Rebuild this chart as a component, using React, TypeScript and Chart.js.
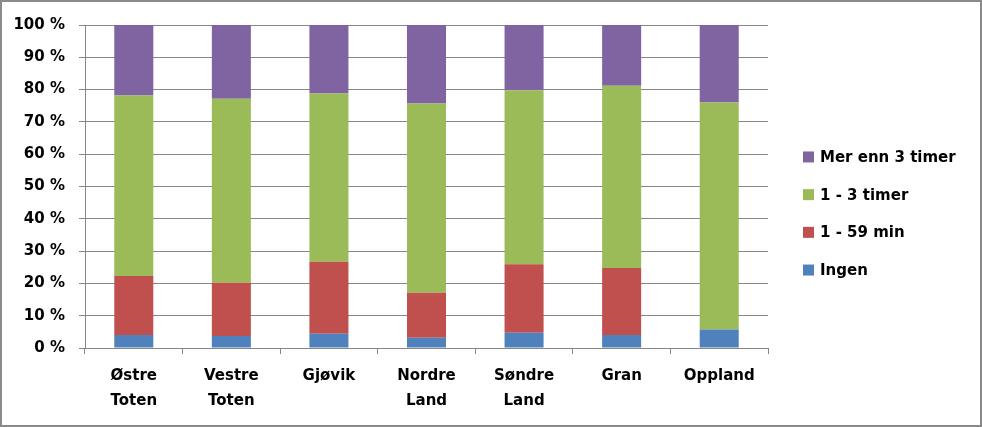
import React, { useEffect, useRef } from "react";
import { Chart, registerables } from "chart.js";

Chart.register(...registerables);

const categories: string[][] = [
  ["Østre", "Toten"],
  ["Vestre", "Toten"],
  ["Gjøvik"],
  ["Nordre", "Land"],
  ["Søndre", "Land"],
  ["Gran"],
  ["Oppland"],
];

const seriesNames = ["Ingen", "1 - 59 min", "1 - 3 timer", "Mer enn 3 timer"];
const ingen = [4.0, 3.7, 4.4, 3.2, 4.7, 4.0, 5.7];
const min1to59 = [18.3, 16.5, 22.3, 13.9, 21.2, 20.8, 0];
const timer1to3 = [55.9, 57.0, 52.1, 58.6, 53.9, 56.4, 70.3];
const merEnn3 = [21.8, 22.8, 21.2, 24.3, 20.2, 18.8, 24.0];
const seriesColors = ["#4F81BD", "#C0504D", "#9BBB59", "#8064A2"];

const yMin = 0;
const yMax = 100;
const yStep = 10;

const FONT_FAMILY = "'DejaVu Sans', sans-serif";
const FONT_SIZE = 15;
const GRID = "#868686";

const sideLegend = {
  id: "sideLegend",
  afterDraw(chart: any) {
    const ctx = chart.ctx as CanvasRenderingContext2D;
    const ds = [...chart.data.datasets].reverse();
    const spacing = 37.7;
    const cy = chart.height / 2;
    const x0 = chart.chartArea.right + 35;
    ctx.save();
    ctx.font = `bold ${FONT_SIZE}px ${FONT_FAMILY}`;
    ctx.textBaseline = "middle";
    ctx.textAlign = "left";
    ds.forEach((d: any, i: number) => {
      const y = cy + (i - (ds.length - 1) / 2) * spacing;
      ctx.fillStyle = d.backgroundColor;
      ctx.fillRect(x0, y - 5.5, 11, 11);
      ctx.fillStyle = "#000";
      ctx.fillText(d.label, x0 + 17, y + 1);
    });
    ctx.restore();
  },
};

export default function App() {
  const ref = useRef<HTMLCanvasElement>(null);
  useEffect(() => {
    if (!ref.current) return;
    const values = [ingen, min1to59, timer1to3, merEnn3];
    const font = { family: FONT_FAMILY, size: FONT_SIZE, weight: "bold" as const, lineHeight: 1.667 };
    const chart = new Chart(ref.current, {
      type: "bar",
      data: {
        labels: categories,
        datasets: values.map((v, i) => ({
          label: seriesNames[i],
          data: v,
          backgroundColor: seriesColors[i],
          borderWidth: 0,
          barPercentage: 0.4,
          categoryPercentage: 1.0,
        })),
      },
      options: {
        animation: false,
        responsive: true,
        maintainAspectRatio: false,
        layout: { padding: { left: 0, right: 212, top: 22, bottom: 0 } },
        plugins: { legend: { display: false }, tooltip: { enabled: false } },
        scales: {
          x: {
            stacked: true,
            grid: { offset: true, drawOnChartArea: false, tickLength: 6, color: GRID },
            border: { color: GRID },
            ticks: { font, color: "#000", padding: 10, maxRotation: 0, autoSkip: false },
            afterFit: (s: any) => {
              s.height = 77;
            },
          },
          y: {
            stacked: true,
            min: yMin,
            max: yMax,
            ticks: {
              stepSize: yStep,
              font: { ...font, lineHeight: 1.2 },
              color: "#000",
              padding: 14,
              callback: (v: any) => `${v} %`,
            },
            grid: { color: GRID, tickLength: 6 },
            border: { color: GRID },
            afterFit: (s: any) => {
              s.width = 83;
            },
          },
        },
      },
      plugins: [sideLegend],
    });
    return () => chart.destroy();
  }, []);

  return (
    <div
      style={{
        position: "absolute",
        left: 0,
        top: 0,
        width: 982,
        height: 427,
        boxSizing: "border-box",
        border: "2px solid #8a8a8a",
        background: "#fff",
      }}
    >
      <canvas ref={ref} />
    </div>
  );
}
